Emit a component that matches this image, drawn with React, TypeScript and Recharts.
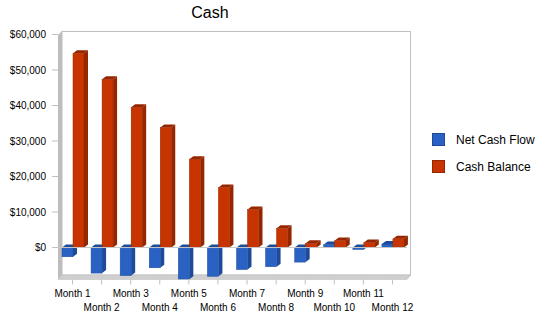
import React from "react";
import {
  BarChart,
  Bar,
  XAxis,
  YAxis,
  CartesianGrid,
  Legend,
  ReferenceLine,
} from "recharts";

const months = [
  "Month 1", "Month 2", "Month 3", "Month 4", "Month 5", "Month 6",
  "Month 7", "Month 8", "Month 9", "Month 10", "Month 11", "Month 12",
];
const netCashFlow = [-2600, -7200, -7900, -5700, -8900, -8100, -6200, -5400, -4100, 850, -550, 1000];
const cashBalance = [54700, 47400, 39500, 33800, 24900, 16900, 10700, 5400, 1200, 2000, 1450, 2450];
const yTicks = [0, 10000, 20000, 30000, 40000, 50000, 60000];
const seriesOrder = ["Net Cash Flow", "Cash Balance"];

const data = months.map((m, i) => ({
  month: m,
  net: netCashFlow[i],
  cash: cashBalance[i],
}));

const FONT = '"Liberation Sans", Arial, sans-serif';
const BLUE = "#2A62C4";
const BLUE_DARK = "#1D4A99";
const RED = "#C83400";
const RED_DARK = "#962600";

// depth of the fake 3d effect
const DX = 4;
const DY = 3;

function Bar3D(props: any) {
  const { x, y, width, height, fill, dark } = props;
  if (x == null || width == null || !height) return null;
  const t = Math.min(y, y + height);
  const h = Math.abs(height);
  const r = x + width;
  return (
    <g>
      <polygon
        points={`${x},${t} ${x + DX},${t - DY} ${r + DX},${t - DY} ${r},${t}`}
        fill={dark}
      />
      <polygon
        points={`${r},${t} ${r + DX},${t - DY} ${r + DX},${t + h - DY} ${r},${t + h}`}
        fill={dark}
      />
      <rect x={x} y={t} width={width} height={h} fill={fill} stroke={dark} strokeWidth={0.5} />
    </g>
  );
}

function MonthTick(props: any) {
  const { x, y, payload, index } = props;
  return (
    <text
      x={x}
      y={y}
      dy={index % 2 === 0 ? 10.5 : 24.5}
      textAnchor="middle"
      fontSize={10}
      fontFamily={FONT}
      fill="#000"
    >
      {payload.value}
    </text>
  );
}

function LegendBox({ payload }: any) {
  const items = [...(payload || [])].sort(
    (a: any, b: any) => seriesOrder.indexOf(a.value) - seriesOrder.indexOf(b.value)
  );
  return (
    <div style={{ fontFamily: FONT, fontSize: 12, color: "#000" }}>
      {items.map((p: any) => (
        <div key={p.value} style={{ display: "flex", alignItems: "center", height: 27 }}>
          <span
            style={{
              width: 13,
              height: 13,
              boxSizing: "border-box",
              background: p.color,
              border: `1px solid ${p.color === BLUE ? BLUE_DARK : RED_DARK}`,
            }}
          />
          <span style={{ marginLeft: 11 }}>{p.value}</span>
        </div>
      ))}
    </div>
  );
}

// back wall grid is shifted up/right of the bars
function backVertical({ xAxis }: any) {
  try {
    const s = xAxis.scale;
    const bw = s.bandwidth ? s.bandwidth() : 0;
    return months.map((m) => s(m) + bw / 2 + DX);
  } catch (e) {
    return [];
  }
}
function backHorizontal({ yAxis }: any) {
  try {
    return yTicks.map((v) => yAxis.scale(v) - 2);
  } catch (e) {
    return [];
  }
}

export default function App() {
  return (
    <div style={{ position: "absolute", left: 0, top: 0, width: 550, height: 318, background: "#fff" }}>
      <svg width={550} height={318} style={{ position: "absolute", left: 0, top: 0 }}>
        <text x={210} y={18} textAnchor="middle" fontSize={16} fontFamily={FONT} fill="#000">
          Cash
        </text>
        <rect x={62} y={31.5} width={348.5} height={243.5} fill="#fff" stroke="#C0C0C0" />
        <polygon points="58,35 62,31 62,275 58,279.5" fill="#BDBDBD" />
        <polygon points="58,279.5 62,275 411,275 407,279.5" fill="#CFCFCF" stroke="#BBBBBB" strokeWidth={0.5} />
      </svg>
      <div style={{ position: "absolute", left: 0, top: 0 }}>
        <BarChart
          width={550}
          height={318}
          data={data}
          margin={{ top: 34.5, right: 143, bottom: 0, left: 0 }}
          barGap={0}
          barSize={11}
        >
          <CartesianGrid
            stroke="#DDDDDD"
            x={62}
            width={348}
            y={31.5}
            height={243.5}
            verticalCoordinatesGenerator={backVertical}
            horizontalCoordinatesGenerator={backHorizontal}
          />
          <XAxis
            dataKey="month"
            height={38.5}
            interval={0}
            axisLine={false}
            tickSize={5}
            tickLine={{ stroke: "#C0C0C0" }}
            tick={<MonthTick />}
          />
          <YAxis
            width={58}
            domain={[-9000, 60000]}
            ticks={yTicks}
            allowDataOverflow
            axisLine={false}
            tickSize={6}
            tickMargin={6}
            tickLine={{ stroke: "#C0C0C0" }}
            tick={{ fontSize: 10, fontFamily: FONT, fill: "#000" }}
            tickFormatter={(v: number) => "$" + v.toLocaleString("en-US")}
          />
          <ReferenceLine y={0} stroke="#C8C8C8" />
          <Bar
            dataKey="net"
            name="Net Cash Flow"
            fill={BLUE}
            isAnimationActive={false}
            shape={(p: any) => <Bar3D {...p} dark={BLUE_DARK} />}
          />
          <Bar
            dataKey="cash"
            name="Cash Balance"
            fill={RED}
            isAnimationActive={false}
            shape={(p: any) => <Bar3D {...p} dark={RED_DARK} />}
          />
          <Legend
            layout="vertical"
            align="center"
            verticalAlign="middle"
            wrapperStyle={{ left: 432, top: 126, width: 118 }}
            content={<LegendBox />}
          />
        </BarChart>
      </div>
    </div>
  );
}
